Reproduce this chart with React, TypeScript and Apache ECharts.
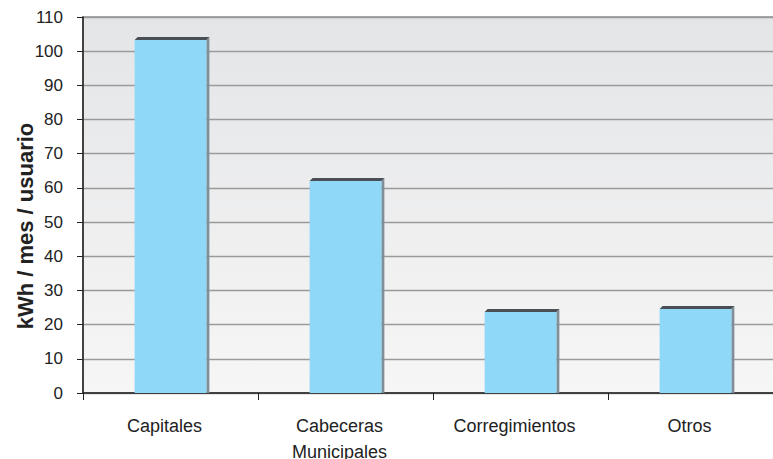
import React, { useEffect, useRef } from "react";
import * as echarts from "echarts";

const categories = ["Capitales", "Cabeceras\nMunicipales", "Corregimientos", "Otros"];
const values = [103.3, 62, 23.7, 24.6];
const yTicks = { min: 0, max: 110, interval: 10 };
const yName = "kWh / mes / usuario";

export default function App() {
  const ref = useRef<HTMLDivElement>(null);
  useEffect(() => {
    document.body.style.margin = "0";
    const chart = echarts.init(ref.current!, null, { renderer: "svg" });
    const font = "'Liberation Sans', Arial, sans-serif";
    chart.setOption({
      animation: false,
      grid: {
        left: 83,
        top: 17,
        width: 700,
        height: 376,
        outerBoundsMode: "none",
        containLabel: false,
        show: true,
        borderColor: "#8c8c8c",
        borderWidth: 1.5,
        backgroundColor: new echarts.graphic.LinearGradient(0, 0, 0, 1, [
          { offset: 0, color: "#e4e5e7" },
          { offset: 1, color: "#f6f6f6" },
        ]),
      },
      xAxis: {
        type: "category",
        data: categories,
        boundaryGap: true,
        axisLine: { lineStyle: { color: "#222", width: 1.5 } },
        axisTick: { show: true, length: 7, lineStyle: { color: "#222" } },
        axisLabel: {
          fontFamily: font,
          fontSize: 18,
          color: "#222",
          margin: 20,
          lineHeight: 26,
          interval: 0,
          padding: [0, 12, 0, 0],
        },
      },
      yAxis: {
        type: "value",
        min: yTicks.min,
        max: yTicks.max,
        interval: yTicks.interval,
        name: yName,
        nameLocation: "middle",
        nameGap: 47,
        nameMoveOverlap: false,
        nameTextStyle: {
          fontFamily: font,
          fontSize: 22,
          fontWeight: "bold",
          color: "#222",
          padding: [0, 42, 0, 0],
        },
        axisLine: { show: true, lineStyle: { color: "#222", width: 1.5 } },
        axisTick: { show: true, length: 6, lineStyle: { color: "#222" } },
        axisLabel: { fontFamily: font, fontSize: 17, color: "#222", margin: 20 },
        splitLine: { lineStyle: { color: "#9a9a9a", width: 1.3 } },
      },
      series: [
        {
          type: "custom",
          data: values.map((v, i) => [i, v]),
          encode: { x: 0, y: 1 },
          renderItem: (params: any, api: any) => {
            const i = api.value(0);
            const v = api.value(1);
            const top = api.coord([i, v]);
            const bot = api.coord([i, 0]);
            const w = api.size([1, 0])[0] * 0.41;
            const x0 = top[0] - w / 2;
            const x1 = top[0] + w / 2;
            const y0 = top[1];
            const yb = bot[1];
            const d = 3;
            return {
              type: "group",
              children: [
                {
                  type: "polygon",
                  shape: { points: [[x1, y0], [x1 + d, y0 - d], [x1 + d, yb], [x1, yb]] },
                  style: { fill: "#7f8f9a" },
                },
                {
                  type: "polygon",
                  shape: { points: [[x0, y0], [x0 + d, y0 - d], [x1 + d, y0 - d], [x1, y0]] },
                  style: { fill: "#4a4f55" },
                },
                {
                  type: "rect",
                  shape: { x: x0, y: y0, width: w, height: yb - y0 },
                  style: { fill: "#8fd8f8" },
                },
              ],
            };
          },
        },
      ],
    });
    return () => chart.dispose();
  }, []);
  return <div ref={ref} style={{ width: 773, height: 459 }} />;
}
